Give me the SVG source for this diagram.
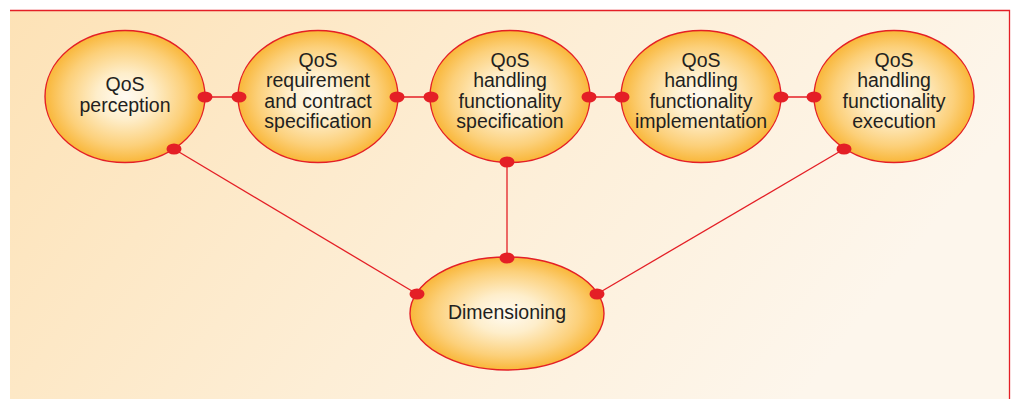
<svg xmlns="http://www.w3.org/2000/svg" width="1016" height="399" viewBox="0 0 1016 399">
  <defs>
    <linearGradient id="panelFill" x1="0" y1="0" x2="1" y2="0.3">
      <stop offset="0" stop-color="#fde2b6"/>
      <stop offset="0.55" stop-color="#fdeed6"/>
      <stop offset="1" stop-color="#fdf6ec"/>
    </linearGradient>
    <radialGradient id="nodeFill" cx="0.5" cy="0.5" r="0.5">
      <stop offset="0" stop-color="#fffbf3"/>
      <stop offset="0.35" stop-color="#feeecb"/>
      <stop offset="0.75" stop-color="#fcd07a"/>
      <stop offset="1" stop-color="#f9b73a"/>
    </radialGradient>
    <style>
      .node { fill: url(#nodeFill); stroke: #e41f26; stroke-width: 1.4; }
      .label { font-family: "Liberation Sans", Arial, sans-serif; font-size: 19.5px; fill: #231f20; text-anchor: middle; }
      .link { stroke: #e41f26; stroke-width: 1.3; fill: none; }
      .port { fill: #e41f26; }
    </style>
  </defs>

  <!-- background panel -->
  <rect x="10" y="10" width="1000" height="389" fill="url(#panelFill)"/>
  <path d="M10 10.5 H1009.5 V399" fill="none" stroke="#e41f26" stroke-width="1.3"/>

  <!-- connectors -->
  <g id="connectors">
    <line class="link" x1="205" y1="97" x2="239" y2="97"/>
    <line class="link" x1="397" y1="97" x2="431" y2="97"/>
    <line class="link" x1="589" y1="97" x2="622" y2="97"/>
    <line class="link" x1="781" y1="97" x2="814" y2="97"/>
    <line class="link" x1="174" y1="149" x2="417" y2="294"/>
    <line class="link" x1="507" y1="162" x2="507" y2="258"/>
    <line class="link" x1="844" y1="149" x2="597" y2="294"/>
  </g>

  <g id="perception">
    <ellipse class="node" cx="125" cy="96.5" rx="80" ry="66"/>
    <text class="label" x="125" y="91">QoS</text>
    <text class="label" x="125" y="111.5">perception</text>
  </g>

  <g id="requirement">
    <ellipse class="node" cx="318" cy="96.5" rx="80" ry="66"/>
    <text class="label" x="318" y="67">QoS</text>
    <text class="label" x="318" y="87">requirement</text>
    <text class="label" x="318" y="107.5">and contract</text>
    <text class="label" x="318" y="128">specification</text>
  </g>

  <g id="specification">
    <ellipse class="node" cx="510" cy="96.5" rx="80" ry="66"/>
    <text class="label" x="510" y="67">QoS</text>
    <text class="label" x="510" y="87">handling</text>
    <text class="label" x="510" y="107.5">functionality</text>
    <text class="label" x="510" y="128">specification</text>
  </g>

  <g id="implementation">
    <ellipse class="node" cx="701" cy="96.5" rx="80" ry="66"/>
    <text class="label" x="701" y="67">QoS</text>
    <text class="label" x="701" y="87">handling</text>
    <text class="label" x="701" y="107.5">functionality</text>
    <text class="label" x="701" y="128">implementation</text>
  </g>

  <g id="execution">
    <ellipse class="node" cx="894" cy="96.5" rx="80" ry="66"/>
    <text class="label" x="894" y="67">QoS</text>
    <text class="label" x="894" y="87">handling</text>
    <text class="label" x="894" y="107.5">functionality</text>
    <text class="label" x="894" y="128">execution</text>
  </g>

  <g id="dimensioning">
    <ellipse class="node" cx="507" cy="313.5" rx="97" ry="56.5"/>
    <text class="label" x="507" y="319">Dimensioning</text>
  </g>

  <!-- connection points, drawn over the ellipse outlines -->
  <g id="ports">
    <ellipse class="port" cx="205" cy="97" rx="7.5" ry="5.5"/>
    <ellipse class="port" cx="239" cy="97" rx="7.5" ry="5.5"/>
    <ellipse class="port" cx="397" cy="97" rx="7.5" ry="5.5"/>
    <ellipse class="port" cx="431" cy="97" rx="7.5" ry="5.5"/>
    <ellipse class="port" cx="589" cy="97" rx="7.5" ry="5.5"/>
    <ellipse class="port" cx="622" cy="97" rx="7.5" ry="5.5"/>
    <ellipse class="port" cx="781" cy="97" rx="7.5" ry="5.5"/>
    <ellipse class="port" cx="814" cy="97" rx="7.5" ry="5.5"/>
    <ellipse class="port" cx="174" cy="149" rx="7.5" ry="5.5"/>
    <ellipse class="port" cx="507" cy="162" rx="7.5" ry="5.5"/>
    <ellipse class="port" cx="844" cy="149" rx="7.5" ry="5.5"/>
    <ellipse class="port" cx="507" cy="258" rx="7.5" ry="5.5"/>
    <ellipse class="port" cx="417" cy="294" rx="7.5" ry="5.5"/>
    <ellipse class="port" cx="597" cy="294" rx="7.5" ry="5.5"/>
  </g>
</svg>
